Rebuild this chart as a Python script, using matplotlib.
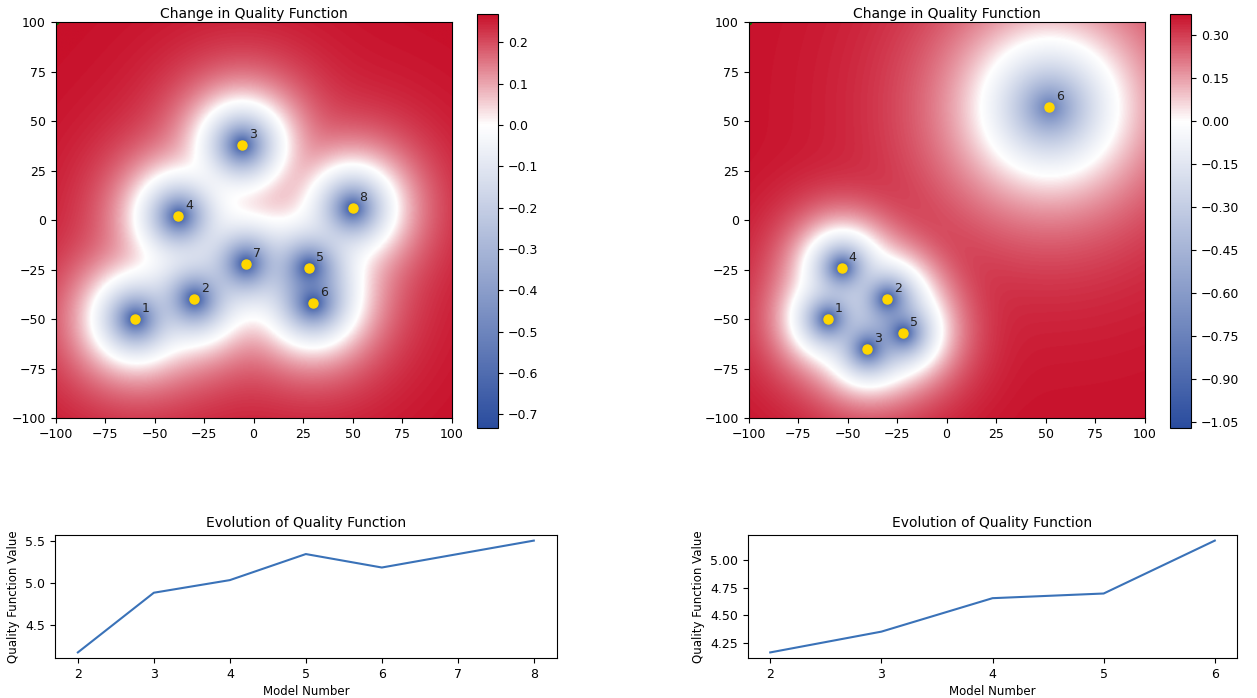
import numpy as np
import matplotlib
matplotlib.use('Agg')
import matplotlib.pyplot as plt
from matplotlib.colors import LinearSegmentedColormap, Normalize

# model positions
left_x = [-60, -30, -6, -38, 28, 30, -4, 50]
left_y = [-50, -40, 38, 2, -24, -42, -22, 6]
right_x = [-60, -30, -40, -53, -22, 52]
right_y = [-50, -40, -65, -24, -57, 57]

# per-model depth at the centre and falloff length (map units)
left_depth = [-0.73] * 8
left_len = [17.0] * 8
right_depth = [-1.07, -1.07, -1.07, -1.07, -1.07, -0.8]
right_len = [14.0, 14.0, 14.0, 14.0, 14.0, 30.5]

left_clim = (-0.733, 0.268)
right_clim = (-1.071, 0.373)
left_cticks = [0.2, 0.1, 0.0, -0.1, -0.2, -0.3, -0.4, -0.5, -0.6, -0.7]
right_cticks = [0.30, 0.15, 0.00, -0.15, -0.30, -0.45, -0.60, -0.75, -0.90, -1.05]

# quality function evolution
left_models = [2, 3, 4, 5, 6, 7, 8]
left_quality = [4.17, 4.88, 5.03, 5.34, 5.18, 5.34, 5.50]
right_models = [2, 3, 4, 5, 6]
right_quality = [4.167, 4.354, 4.655, 4.697, 5.173]

BLUE = '#2a4c9e'
RED = '#c8102a'
LINE = '#3a72b8'

plt.rcParams['font.size'] = 9
plt.rcParams['axes.titlesize'] = 10
plt.rcParams['axes.labelsize'] = 8.5


def make_cmap(clim):
    z = -clim[0] / (clim[1] - clim[0])
    return LinearSegmentedColormap.from_list('bwr_custom', [(0, BLUE), (z, 'white'), (1, RED)])


def change_field(xs, ys, depth, length, top, n=500):
    g = np.linspace(-100, 100, n)
    X, Y = np.meshgrid(g, g)
    p = 2.5
    acc = np.zeros_like(X)
    for x0, y0, c, L in zip(xs, ys, depth, length):
        d = np.hypot(X - x0, Y - y0)
        u = (top - c) * np.exp(-d / L)
        acc += u ** p
    return top - acc ** (1.0 / p)


def draw_map(ax, cax, xs, ys, depth, length, clim, cticks, fmt):
    field = change_field(xs, ys, depth, length, clim[1])
    im = ax.imshow(field, origin='lower', extent=[-100, 100, -100, 100],
                   cmap=make_cmap(clim), norm=Normalize(clim[0], clim[1]),
                   interpolation='bilinear')
    ax.plot(xs, ys, 'o', color='gold', ms=6.5, zorder=3)
    for i, (x, y) in enumerate(zip(xs, ys)):
        ax.annotate(str(i + 1), (x, y), xytext=(5, 5), textcoords='offset points',
                    fontsize=9, color='#222222', zorder=4)
    ax.plot(-100, 100, 'o', color='green', ms=3, clip_on=True, zorder=2)
    ax.set_xlim(-100, 100)
    ax.set_ylim(-100, 100)
    ax.set_title('Change in Quality Function', pad=3)
    cbar = plt.colorbar(im, cax=cax)
    cbar.set_ticks(cticks)
    cbar.set_ticklabels([fmt.format(t).replace('-', '\u2212') for t in cticks])
    return cbar


def draw_line(ax, models, quality):
    ax.plot(models, quality, color=LINE, lw=1.5)
    ax.set_title('Evolution of Quality Function', pad=6)
    ax.set_xlabel('Model Number', labelpad=3)
    ax.set_ylabel('Quality Function Value')
    ax.set_xticks(models)


fig = plt.figure(figsize=(12.57, 6.98), dpi=100)

ax_l = fig.add_axes([0.0438, 0.4011, 0.3158, 0.5673])
cax_l = fig.add_axes([0.3795, 0.3868, 0.0167, 0.5931])
ax_r = fig.add_axes([0.5951, 0.4011, 0.3158, 0.5673])
cax_r = fig.add_axes([0.9308, 0.3868, 0.0167, 0.5931])

draw_map(ax_l, cax_l, left_x, left_y, left_depth, left_len, left_clim, left_cticks, '{:.1f}')
draw_map(ax_r, cax_r, right_x, right_y, right_depth, right_len, right_clim, right_cticks, '{:.2f}')

bl = fig.add_axes([0.0438, 0.0573, 0.3990, 0.1762])
br = fig.add_axes([0.5951, 0.0573, 0.3890, 0.1762])
draw_line(bl, left_models, left_quality)
draw_line(br, right_models, right_quality)
br.set_yticks([4.25, 4.50, 4.75, 5.00])

fig.savefig('out.png', dpi=100)
